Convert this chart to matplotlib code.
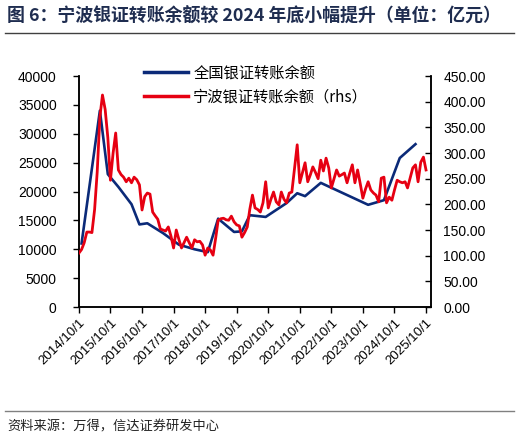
import pandas as pd
import matplotlib
matplotlib.use("Agg")
import matplotlib.pyplot as plt
from matplotlib.lines import Line2D

plt.rcParams['font.family'] = ['Liberation Sans', 'Noto Sans CJK SC', 'DejaVu Sans']

# national bank-securities transfer balance (left axis, sparse observations)
nat_dates = ["2014-11-01", "2015-06-01", "2015-09-01", "2016-01-01", "2016-06-01",
             "2016-09-01", "2016-12-01", "2017-06-01", "2017-12-01", "2018-06-01",
             "2018-11-01", "2019-03-01", "2019-09-01", "2019-12-01", "2020-03-01",
             "2020-09-01", "2021-05-01", "2021-09-01", "2021-12-01", "2022-06-01",
             "2023-12-01", "2024-06-01", "2024-12-01", "2025-06-01"]
nat_vals = [11000, 34000, 23000, 20800, 17800,
            14300, 14500, 12800, 10800, 10000,
            9500, 15300, 13000, 13100, 15900,
            15600, 18000, 19700, 19200, 21500,
            17700, 18500, 25800, 28200]

# Ningbo balance, monthly from 2014-10 (right axis)
nb_start = "2014-10-01"
nb_vals = [105, 112, 125, 146, 146, 145, 190, 263, 370, 413,
           385, 330, 247, 300, 339, 267, 258, 253, 244, 251,
           242, 253, 248, 238, 189, 215, 222, 220, 185, 178,
           171, 152, 150, 148, 156, 138, 115, 150, 132, 115,
           126, 136, 125, 115, 131, 127, 128, 121, 101, 115,
           111, 101, 135, 169, 172, 173, 170, 169, 177, 166,
           160, 158, 136, 145, 156, 190, 218, 193, 190, 185,
           203, 244, 193, 210, 224, 205, 199, 224, 210, 203,
           222, 224, 270, 316, 242, 262, 281, 244, 258, 273,
           262, 250, 286, 265, 290, 271, 232, 250, 267, 255,
           258, 261, 242, 260, 277, 242, 267, 240, 212, 230,
           244, 228, 222, 218, 205, 251, 253, 203, 214, 208,
           228, 247, 244, 242, 244, 232, 252, 271, 277, 244,
           282, 292, 267]

tick_labels = [f"{y}/10/1" for y in range(2014, 2026)]
left_ticks = list(range(0, 40001, 5000))
right_ticks = [i * 50 for i in range(10)]

title = "图 6：宁波银证转账余额较 2024 年底小幅提升（单位：亿元）"
source = "资料来源：万得，信达证券研发中心"
label_nat = "全国银证转账余额"
label_nb = "宁波银证转账余额（rhs）"

navy = "#0b2a78"
red = "#e60012"
cjk = ['Noto Sans CJK SC', 'DejaVu Sans']

nat_x = pd.to_datetime(nat_dates)
nb_x = pd.date_range(nb_start, periods=len(nb_vals), freq="MS")

fig = plt.figure(figsize=(5.19, 4.42), dpi=100)
ax = fig.add_axes([0.152, 0.3054, 0.678, 0.5226])
ax2 = ax.twinx()

ax.plot(nat_x, nat_vals, color=navy, lw=1.9, zorder=2)
ax2.plot(nb_x, nb_vals, color=red, lw=2.0, zorder=3)

ax.set_xlim(pd.Timestamp("2014-10-01"), pd.Timestamp("2025-11-25"))
ax.set_ylim(0, 40000)
ax2.set_ylim(0, 450)

ax.set_yticks(left_ticks)
ax.set_yticklabels([str(v) for v in left_ticks], fontsize=10)
ax2.set_yticks(right_ticks)
ax2.set_yticklabels([f"{v:.2f}" for v in right_ticks], fontsize=10)

xt = pd.to_datetime([f"{y}-10-01" for y in range(2014, 2026)])
ax.set_xticks(xt)
ax.set_xticklabels(tick_labels, rotation=45, ha='right', rotation_mode='anchor', fontsize=9.5)

ax.tick_params(axis='y', direction='out', length=4, width=1, colors='black', pad=12)
ax.tick_params(axis='x', direction='out', length=4, width=1, pad=3)
ax2.tick_params(axis='y', direction='in', length=4, width=1, pad=9)

for a in (ax, ax2):
    a.spines['top'].set_visible(False)
    for s in ('left', 'right', 'bottom'):
        a.spines[s].set_linewidth(1.1)
        a.spines[s].set_color('black')

handles = [Line2D([], [], color=navy, lw=2.5), Line2D([], [], color=red, lw=2.5)]
fig.legend(handles, [label_nat, label_nb], loc='upper left',
           bbox_to_anchor=(0.25, 0.885), frameon=False, handlelength=2.9,
           handletextpad=0.35, labelspacing=0.45, prop={'family': cjk, 'size': 11})

fig.text(0.013, 0.962, title, fontsize=12.9, fontweight='bold', color='#1f2d50',
         family=cjk, va='center', ha='left')
fig.add_artist(Line2D([0.01, 0.99], [0.925, 0.925], color='#404040', lw=1.0))
fig.add_artist(Line2D([0.01, 0.99], [0.07, 0.07], color='#808080', lw=1.0))
fig.text(0.015, 0.033, source, fontsize=9.5, color='#222222', family=cjk,
         va='center', ha='left', style='italic')

fig.savefig("out.png", dpi=100)
